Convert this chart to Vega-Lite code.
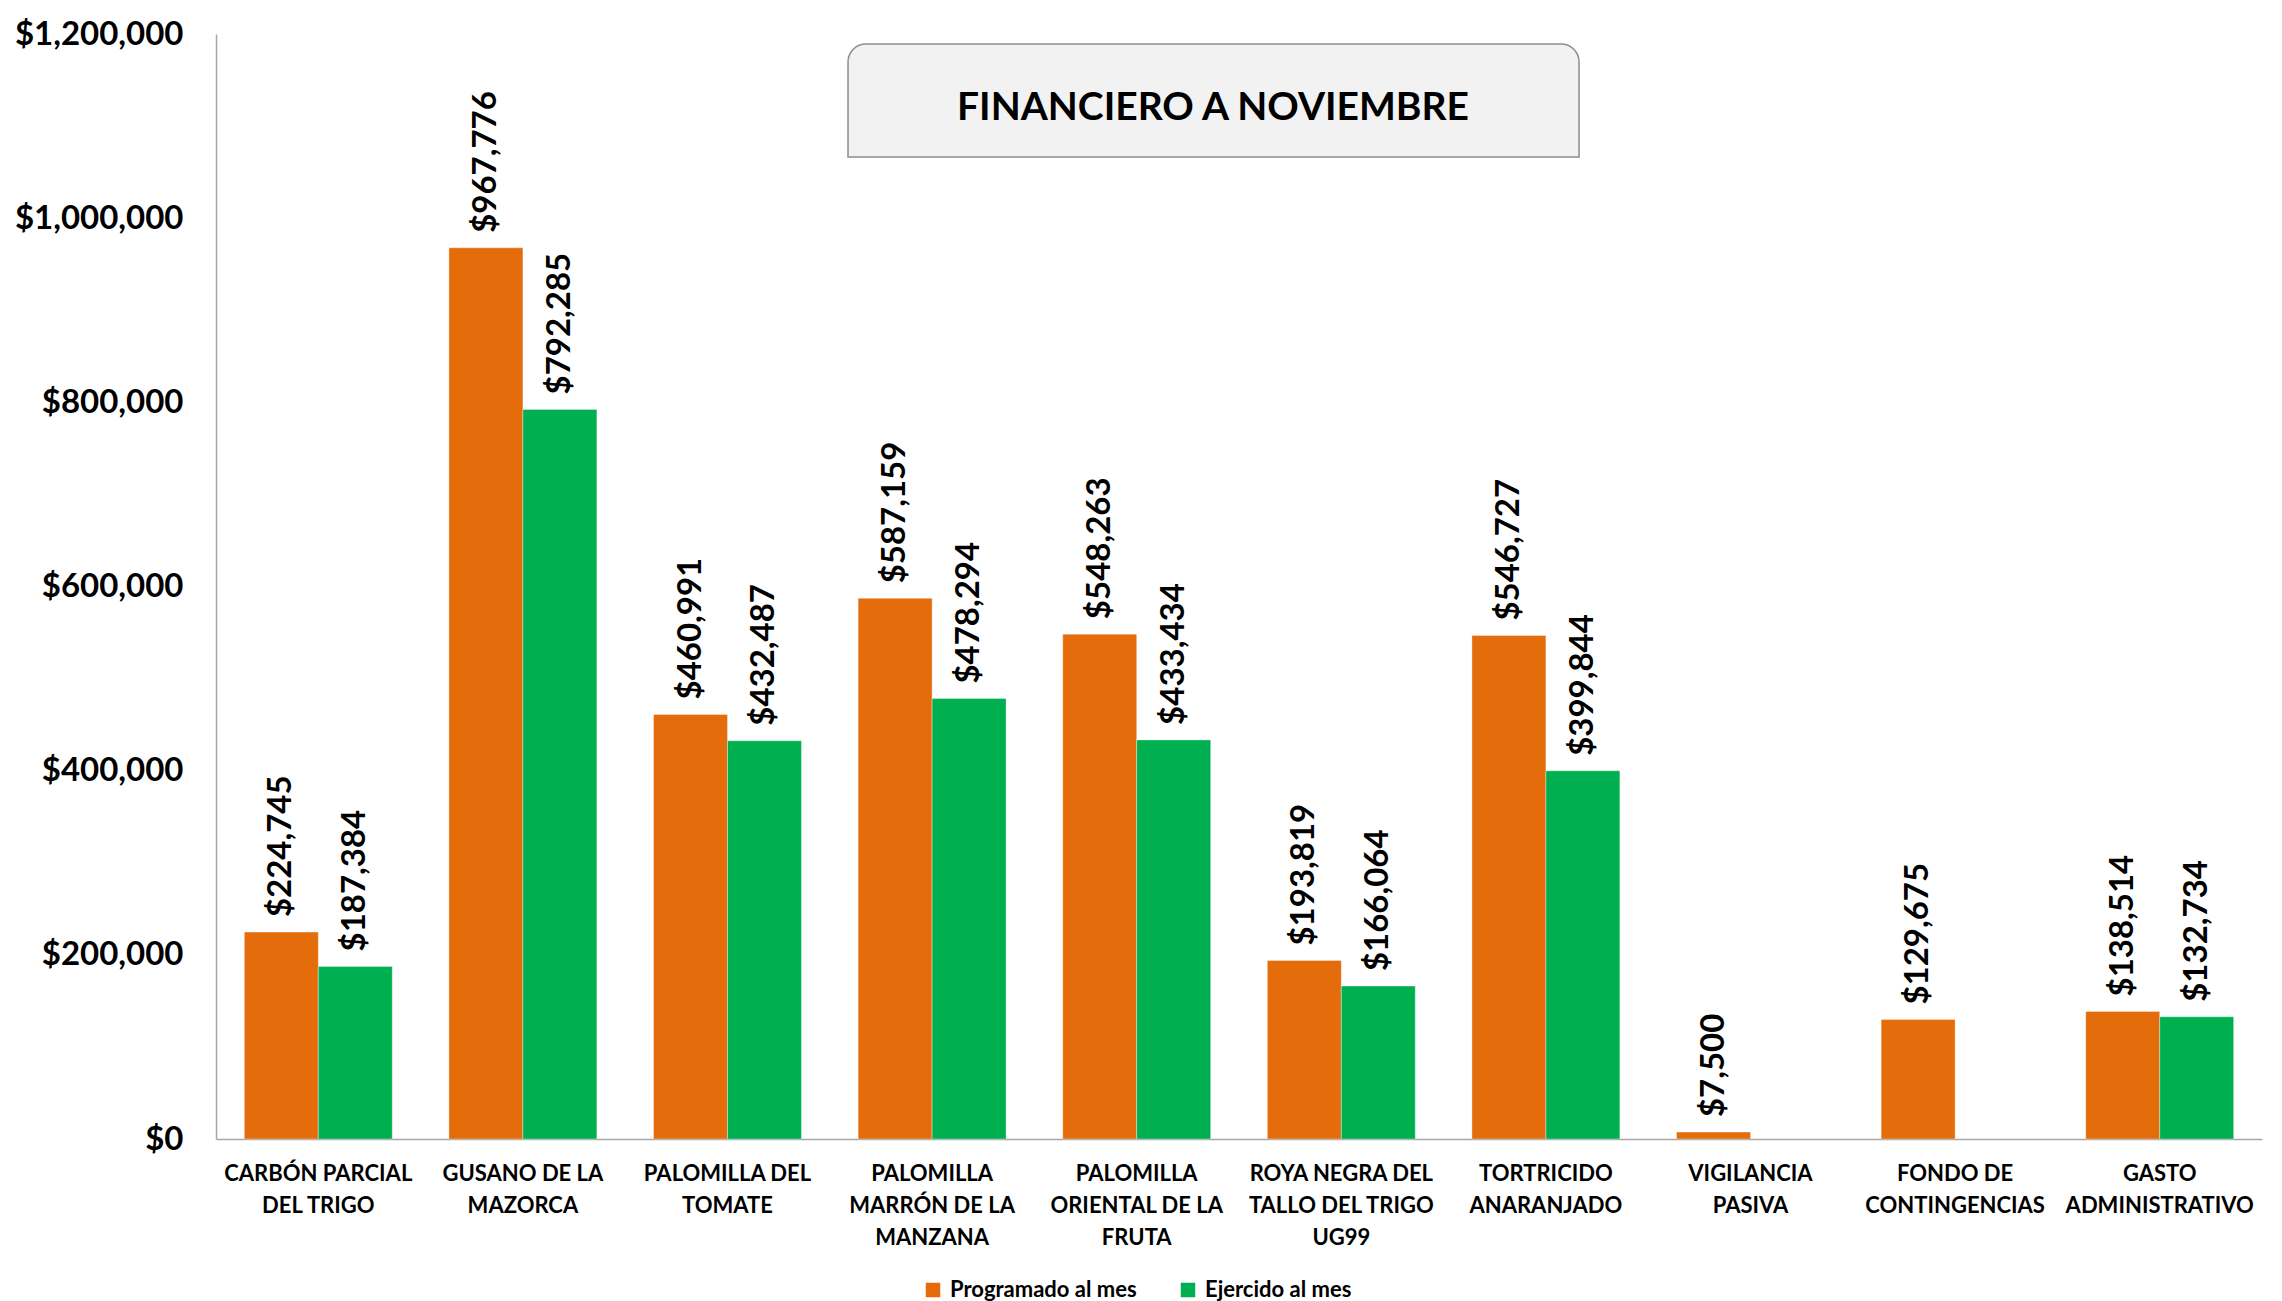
{
  "$schema": "https://vega.github.io/schema/vega-lite/v6.json",
  "width": 2046,
  "height": 1105,
  "autosize": "none",
  "padding": {"left": 216, "top": 34, "right": 20, "bottom": 162},
  "background": "white",
  "config": {
    "view": {"stroke": null},
    "font": "Lato",
    "axis": {"grid": false, "ticks": false, "domainColor": "#A6A6A6", "domainWidth": 1.5, "labelColor": "#000000", "labelFont": "Lato", "labelFontWeight": "bold", "titleColor": "#000000"}
  },
  "datasets": {
    "montos": [
      {"categoria": "CARBÓN PARCIAL DEL TRIGO", "serie": "Programado al mes", "monto": 224745},
      {"categoria": "CARBÓN PARCIAL DEL TRIGO", "serie": "Ejercido al mes", "monto": 187384},
      {"categoria": "GUSANO DE LA MAZORCA", "serie": "Programado al mes", "monto": 967776},
      {"categoria": "GUSANO DE LA MAZORCA", "serie": "Ejercido al mes", "monto": 792285},
      {"categoria": "PALOMILLA DEL TOMATE", "serie": "Programado al mes", "monto": 460991},
      {"categoria": "PALOMILLA DEL TOMATE", "serie": "Ejercido al mes", "monto": 432487},
      {"categoria": "PALOMILLA MARRÓN DE LA MANZANA", "serie": "Programado al mes", "monto": 587159},
      {"categoria": "PALOMILLA MARRÓN DE LA MANZANA", "serie": "Ejercido al mes", "monto": 478294},
      {"categoria": "PALOMILLA ORIENTAL DE LA FRUTA", "serie": "Programado al mes", "monto": 548263},
      {"categoria": "PALOMILLA ORIENTAL DE LA FRUTA", "serie": "Ejercido al mes", "monto": 433434},
      {"categoria": "ROYA NEGRA DEL TALLO DEL TRIGO UG99", "serie": "Programado al mes", "monto": 193819},
      {"categoria": "ROYA NEGRA DEL TALLO DEL TRIGO UG99", "serie": "Ejercido al mes", "monto": 166064},
      {"categoria": "TORTRICIDO ANARANJADO", "serie": "Programado al mes", "monto": 546727},
      {"categoria": "TORTRICIDO ANARANJADO", "serie": "Ejercido al mes", "monto": 399844},
      {"categoria": "VIGILANCIA PASIVA", "serie": "Programado al mes", "monto": 7500},
      {"categoria": "FONDO DE CONTINGENCIAS", "serie": "Programado al mes", "monto": 129675},
      {"categoria": "GASTO ADMINISTRATIVO", "serie": "Programado al mes", "monto": 138514},
      {"categoria": "GASTO ADMINISTRATIVO", "serie": "Ejercido al mes", "monto": 132734}
    ]
  },
  "resolve": {"scale": {"x": "independent"}, "axis": {"x": "independent"}},
  "layer": [
    {
      "data": {"name": "montos"},
      "encoding": {
        "x": {
          "field": "categoria", "type": "nominal", "sort": null,
          "scale": {"paddingInner": 0.277, "paddingOuter": 0.1385},
          "axis": {
            "title": null, "labelAngle": 0, "labelFontSize": 22, "labelPadding": 24, "labelBaseline": "top", "labelLineHeight": 32, "labelLimit": 400,
            "labelExpr": "datum.value == 'CARBÓN PARCIAL DEL TRIGO' ? ['CARBÓN PARCIAL','DEL TRIGO'] : datum.value == 'GUSANO DE LA MAZORCA' ? ['GUSANO DE LA','MAZORCA'] : datum.value == 'PALOMILLA DEL TOMATE' ? ['PALOMILLA DEL','TOMATE'] : datum.value == 'PALOMILLA MARRÓN DE LA MANZANA' ? ['PALOMILLA','MARRÓN DE LA','MANZANA'] : datum.value == 'PALOMILLA ORIENTAL DE LA FRUTA' ? ['PALOMILLA','ORIENTAL DE LA','FRUTA'] : datum.value == 'ROYA NEGRA DEL TALLO DEL TRIGO UG99' ? ['ROYA NEGRA DEL','TALLO DEL TRIGO','UG99'] : datum.value == 'TORTRICIDO ANARANJADO' ? ['TORTRICIDO','ANARANJADO'] : datum.value == 'VIGILANCIA PASIVA' ? ['VIGILANCIA','PASIVA'] : datum.value == 'FONDO DE CONTINGENCIAS' ? ['FONDO DE','CONTINGENCIAS'] : ['GASTO','ADMINISTRATIVO']"
          }
        },
        "xOffset": {"field": "serie", "type": "nominal", "sort": ["Programado al mes", "Ejercido al mes"], "scale": {"domain": ["Programado al mes", "Ejercido al mes"], "paddingInner": 0, "paddingOuter": 0}},
        "y": {
          "field": "monto", "type": "quantitative",
          "scale": {"domain": [0, 1200000], "nice": false, "zero": true},
          "axis": {"title": null, "values": [0, 200000, 400000, 600000, 800000, 1000000, 1200000], "format": "$,.0f", "labelFontSize": 33, "labelPadding": 33}
        }
      },
      "layer": [
        {
          "mark": {"type": "bar", "stroke": "white", "strokeOpacity": 0.35, "strokeWidth": 1},
          "encoding": {
            "color": {
              "field": "serie", "type": "nominal",
              "scale": {"domain": ["Programado al mes", "Ejercido al mes"], "range": ["#E46C0A", "#00B050"]},
              "legend": {
                "title": null, "orient": "none", "direction": "horizontal", "legendX": 706, "legendY": 1245,
                "symbolType": "square", "symbolSize": 210, "symbolStrokeWidth": 0, "labelFont": "Lato", "labelFontWeight": "bold",
                "labelFontSize": 22, "labelColor": "#000000", "labelOffset": 6, "labelLimit": 400, "columnPadding": 40
              }
            }
          }
        },
        {
          "mark": {"type": "text", "angle": 270, "align": "left", "baseline": "middle", "dx": 15, "font": "Lato", "fontWeight": "bold", "fontSize": 33, "color": "#000000"},
          "encoding": {"text": {"field": "monto", "type": "quantitative", "format": "$,.0f"}}
        }
      ]
    },
    {
      "data": {"values": [{}]},
      "mark": {"type": "rect", "fill": "#7F7F7F", "opacity": 0.55, "xOffset": 3, "yOffset": 5, "cornerRadiusTopLeft": 18, "cornerRadiusTopRight": 18},
      "encoding": {
        "x": {"datum": 3.089, "type": "quantitative", "scale": {"domain": [0, 10], "nice": false, "zero": false}, "axis": null},
        "x2": {"datum": 6.662},
        "y": {"datum": 1189140, "type": "quantitative"},
        "y2": {"datum": 1066425}
      }
    },
    {
      "data": {"values": [{}]},
      "mark": {"type": "rect", "fill": "#F2F2F2", "stroke": "#8C8C8C", "strokeWidth": 1.5, "cornerRadiusTopLeft": 18, "cornerRadiusTopRight": 18},
      "encoding": {
        "x": {"datum": 3.089, "type": "quantitative", "scale": {"domain": [0, 10], "nice": false, "zero": false}, "axis": null},
        "x2": {"datum": 6.662},
        "y": {"datum": 1189140, "type": "quantitative"},
        "y2": {"datum": 1066425}
      }
    },
    {
      "data": {"values": [{"titulo": "FINANCIERO A NOVIEMBRE"}]},
      "mark": {"type": "text", "align": "center", "baseline": "middle", "font": "Lato", "fontWeight": "bold", "fontSize": 39, "color": "#000000"},
      "encoding": {
        "x": {"datum": 4.873, "type": "quantitative", "scale": {"domain": [0, 10], "nice": false, "zero": false}, "axis": null},
        "y": {"datum": 1120000, "type": "quantitative"},
        "text": {"field": "titulo", "type": "nominal"}
      }
    }
  ]
}
